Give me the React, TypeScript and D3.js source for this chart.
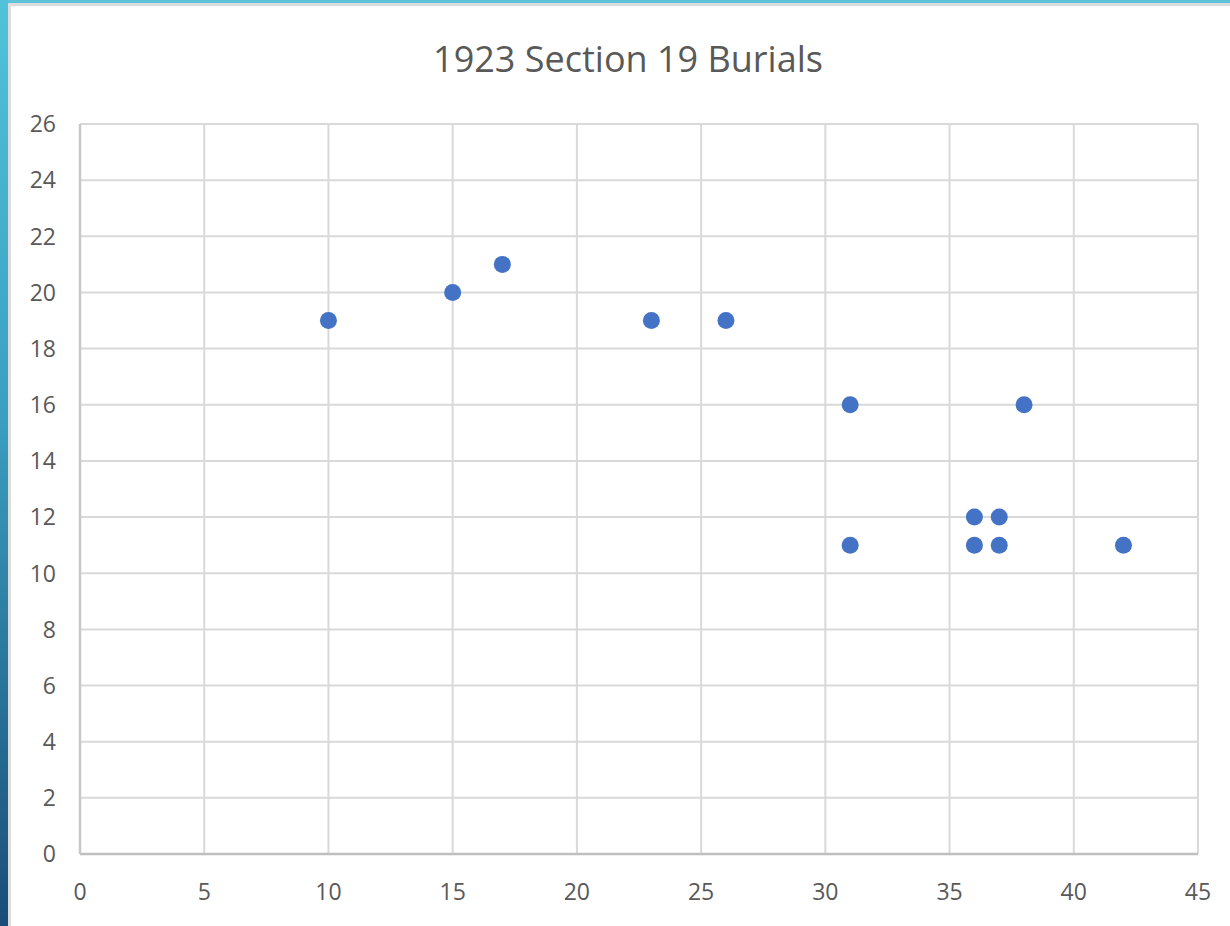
import * as d3 from "d3";
import React, { useEffect, useRef } from "react";

const xValues = [10, 15, 17, 23, 26, 31, 31, 36, 37, 36, 37, 38, 42];
const yValues = [19, 20, 21, 19, 19, 16, 11, 12, 12, 11, 11, 16, 11];
const xTicks = d3.range(0, 46, 5);
const yTicks = d3.range(0, 27, 2);
const title = "1923 Section 19 Burials";

const W = 1230;
const H = 926;

export default function App() {
  const svgRef = useRef<SVGSVGElement | null>(null);

  useEffect(() => {
    document.body.style.margin = "0";
    if (!svgRef.current) return;
    const svg = d3.select(svgRef.current);
    svg.selectAll("*").remove();

    const margin = { top: 124, right: 32, bottom: 72, left: 80 };
    const x = d3.scaleLinear().domain([0, 45]).range([margin.left, W - margin.right]);
    const y = d3.scaleLinear().domain([0, 26]).range([H - margin.bottom, margin.top]);
    const font = "Open Sans, Noto Sans, sans-serif";

    // slide frame
    const defs = svg.append("defs");
    const grad = defs
      .append("linearGradient")
      .attr("id", "edge")
      .attr("x1", 0).attr("x2", 0).attr("y1", 0).attr("y2", 1);
    grad.append("stop").attr("offset", "0%").attr("stop-color", "#52c2da");
    grad.append("stop").attr("offset", "45%").attr("stop-color", "#3a9fc0");
    grad.append("stop").attr("offset", "100%").attr("stop-color", "#1a4d78");

    svg.append("rect").attr("width", W).attr("height", H).attr("fill", "#fff");
    svg.append("rect").attr("x", 0).attr("y", 0).attr("width", W).attr("height", 3).attr("fill", "#5bc3da");
    svg.append("rect").attr("x", 8).attr("y", 3).attr("width", W).attr("height", 3).attr("fill", "#dcdcdc");
    svg.append("rect").attr("x", 0).attr("y", 0).attr("width", 8).attr("height", H).attr("fill", "url(#edge)");
    svg.append("rect").attr("x", 8).attr("y", 3).attr("width", 3).attr("height", H).attr("fill", "#dcdcdc");

    svg
      .append("text")
      .attr("x", 628)
      .attr("y", 72)
      .attr("text-anchor", "middle")
      .attr("font-family", font)
      .attr("font-size", 36)
      .attr("fill", "#595959")
      .text(title);

    // gridlines
    svg
      .append("g")
      .selectAll("line")
      .data(yTicks.filter((t) => t > 0))
      .join("line")
      .attr("x1", x(0))
      .attr("x2", x(45))
      .attr("y1", (d) => y(d))
      .attr("y2", (d) => y(d))
      .attr("stroke", "#d9d9d9")
      .attr("stroke-width", 2);

    svg
      .append("g")
      .selectAll("line")
      .data(xTicks)
      .join("line")
      .attr("x1", (d) => x(d))
      .attr("x2", (d) => x(d))
      .attr("y1", y(0))
      .attr("y2", y(26))
      .attr("stroke", "#d9d9d9")
      .attr("stroke-width", 2);

    // axis lines
    svg
      .append("line")
      .attr("x1", x(0))
      .attr("x2", x(45))
      .attr("y1", y(0))
      .attr("y2", y(0))
      .attr("stroke", "#bfbfbf")
      .attr("stroke-width", 2.5);
    svg
      .append("line")
      .attr("x1", x(0))
      .attr("x2", x(0))
      .attr("y1", y(0))
      .attr("y2", y(26))
      .attr("stroke", "#c8c8c8")
      .attr("stroke-width", 2.5);

    // tick labels
    svg
      .append("g")
      .selectAll("text")
      .data(yTicks)
      .join("text")
      .attr("x", 56)
      .attr("y", (d) => y(d))
      .attr("dy", "0.36em")
      .attr("text-anchor", "end")
      .attr("font-family", font)
      .attr("font-size", 23)
      .attr("fill", "#595959")
      .text((d) => d);

    svg
      .append("g")
      .selectAll("text")
      .data(xTicks)
      .join("text")
      .attr("x", (d) => x(d))
      .attr("y", 900)
      .attr("text-anchor", "middle")
      .attr("font-family", font)
      .attr("font-size", 23)
      .attr("fill", "#595959")
      .text((d) => d);

    // points
    svg
      .append("g")
      .selectAll("circle")
      .data(xValues.map((v, i) => ({ x: v, y: yValues[i] })))
      .join("circle")
      .attr("cx", (d) => x(d.x))
      .attr("cy", (d) => y(d.y))
      .attr("r", 8.5)
      .attr("fill", "#4472c4");
  }, []);

  return <svg ref={svgRef} width={W} height={H} style={{ display: "block" }} />;
}
